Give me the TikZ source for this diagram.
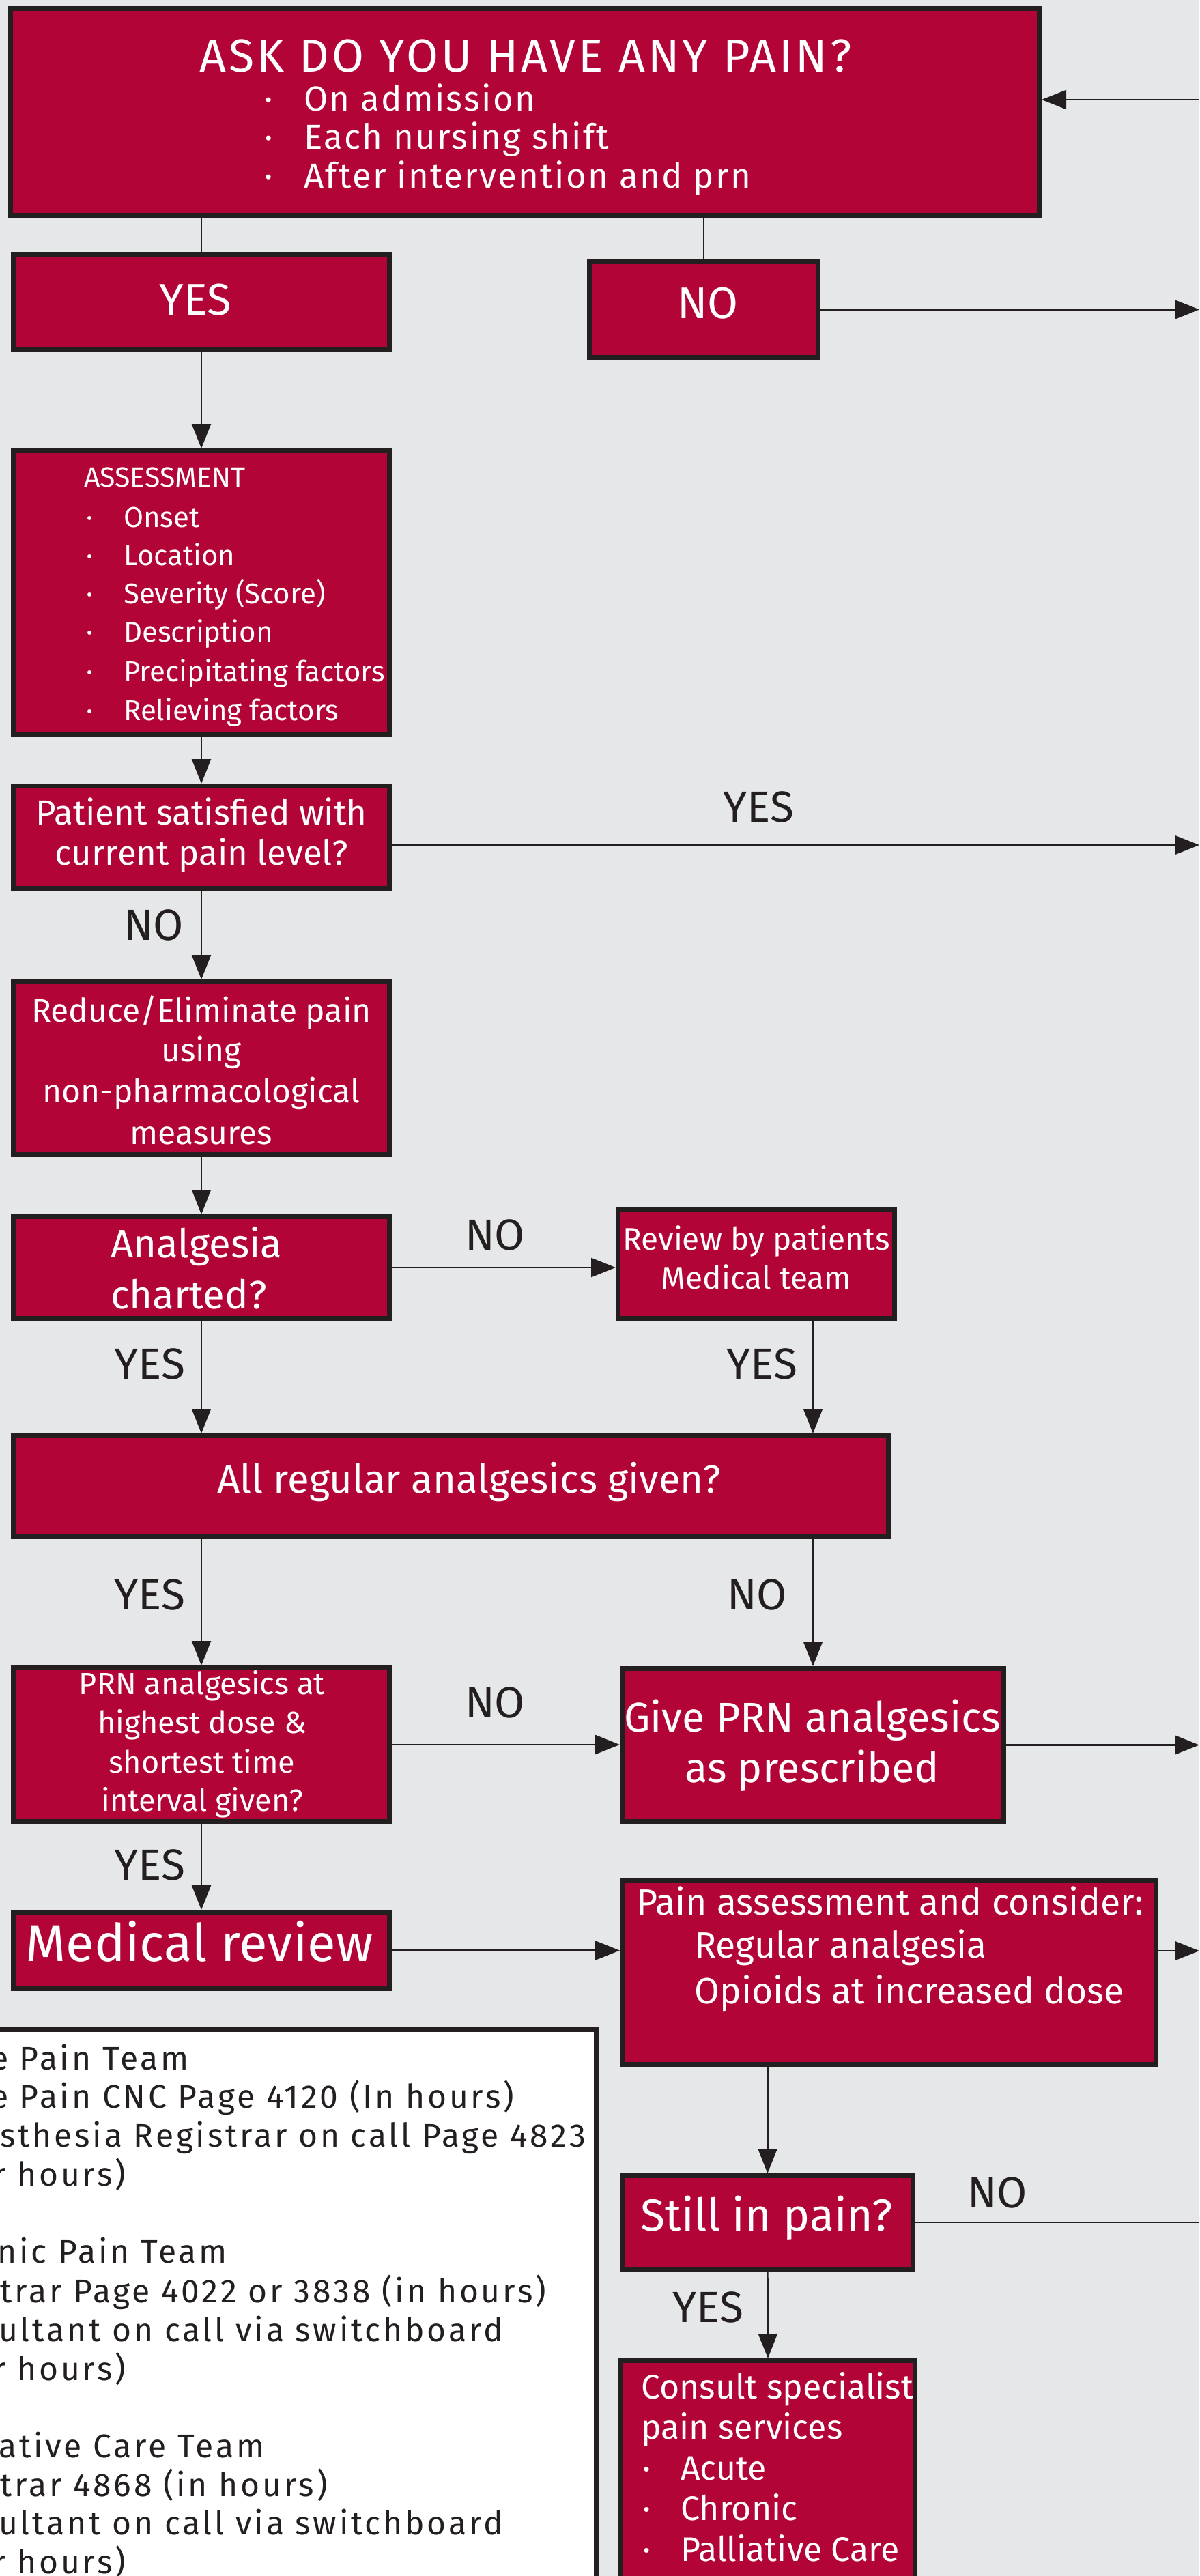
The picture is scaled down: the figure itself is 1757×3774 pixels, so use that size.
\documentclass[tikz,border=0pt]{standalone}
\usepackage{fontspec}
\setmainfont{Fira Sans}
\newfontfamily\spaced[LetterSpace=6]{Fira Sans}
\newfontfamily\spacedb[LetterSpace=4.5]{Fira Sans}
\newfontfamily\spacedl[LetterSpace=8]{Fira Sans}
\usetikzlibrary{arrows.meta}
\definecolor{crim}{HTML}{B30437}
\definecolor{dk}{HTML}{231F20}
\definecolor{bgc}{HTML}{E6E7E8}
\newcommand\fsz[1]{\fontsize{#1}{#1}\selectfont}
\begin{document}
\begin{tikzpicture}[x=1pt,y=-1pt,
  box/.style={draw=dk, fill=crim, line width=7pt, inner sep=0pt},
  legbox/.style={draw=dk, fill=white, line width=7pt, inner sep=0pt},
  wt/.style={text=white, inner sep=0pt, anchor=base},
  wtl/.style={text=white, inner sep=0pt, anchor=base west},
  lbl/.style={text=dk, inner sep=0pt, anchor=base, font=\fsz{64}},
  leg/.style={text=dk, inner sep=0pt, anchor=base west, font=\spacedl\fsz{48}},
  ln/.style={draw=dk, line width=2.4pt},
  arr/.style={ln, -{Triangle[width=28pt,length=36pt]}}]
\useasboundingbox (0,0) rectangle (1757,3774);
\clip (0,0) rectangle (1757,3774);
\fill[bgc] (0,0) rectangle (1757,3774);
\coordinate (E) at (1757,0);
\coordinate (ytop) at (0,146);
\coordinate (ypat) at (0,1238);
\coordinate (ypain) at (0,2858);

% boxes
\node[box, minimum width=1507, minimum height=303] (top) at (769,164) {};
\node[box, minimum width=551, minimum height=140] (yes) at (295,442.5) {};
\node[box, minimum width=335, minimum height=140] (no) at (1031,453.5) {};
\node[box, minimum width=551, minimum height=416] (assess) at (295,868.5) {};
\node[box, minimum width=551, minimum height=150] (patient) at (295,1226.5) {};
\node[box, minimum width=551, minimum height=253] (reduce) at (295,1565) {};
\node[box, minimum width=551, minimum height=149] (analg) at (295,1857) {};
\node[box, minimum width=405, minimum height=160] (review) at (1108,1851.5) {};
\node[box, minimum width=1282, minimum height=148] (allreg) at (660.5,2177.5) {};
\node[box, minimum width=551, minimum height=225] (prn) at (295,2556) {};
\node[box, minimum width=559, minimum height=224] (give) at (1191,2556.5) {};
\node[box, minimum width=551, minimum height=112] (medrev) at (295,2857.5) {};
\node[box, minimum width=782, minimum height=270] (pain) at (1302.5,2889.5) {};
\node[box, minimum width=426, minimum height=137] (still) at (1124.5,3256) {};
\node[box, minimum width=431, minimum height=388] (consult) at (1125,3652.5) {};
\node[legbox, minimum width=900, minimum height=873] (legend) at (423.5,3410) {};

% texts in top box
\node[wt, font=\spaced\fsz{68}] (t0) at (770,105) {ASK DO YOU HAVE ANY PAIN?};
\node[wt, font=\fsz{51}] (t0b1) at (394,162) {·};
\node[wt, font=\fsz{51}] (t0b2) at (394,218) {·};
\node[wt, font=\fsz{51}] (t0b3) at (394,275) {·};
\node[wtl, font=\spacedb\fsz{51}] (t01) at (445,162) {On admission};
\node[wtl, font=\spacedb\fsz{51}] (t02) at (445,218) {Each nursing shift};
\node[wtl, font=\spacedb\fsz{51}] (t03) at (445,275) {After intervention and prn};

\node[wt, font=\fsz{65}] (tyes) at (286,461) {YES};
\node[wt, font=\fsz{65}] (tno) at (1037,466) {NO};

% assessment
\node[wtl, font=\fsz{41}] (ta0) at (123,713) {ASSESSMENT};
\foreach \y/\t [count=\i] in {772/Onset,828/Location,884/Severity (Score),940/Description,998/Precipitating factors,1055/Relieving factors}{
  \node[wt, font=\fsz{42}] (tab\i) at (132,\y) {·};
  \node[wtl, font=\fsz{42}] (ta\i) at (181,\y) {\t};
}

\node[wt, font=\fsz{51}] (tp1) at (295,1208) {Patient satisfied with};
\node[wt, font=\fsz{51}] (tp2) at (295,1267) {current pain level?};

\node[wt, font=\fsz{48}] (tr1) at (295,1497) {Reduce/Eliminate pain};
\node[wt, font=\fsz{48}] (tr2) at (295,1555) {using};
\node[wt, font=\fsz{48}] (tr3) at (295,1615) {non-pharmacological};
\node[wt, font=\fsz{48}] (tr4) at (295,1676) {measures};

\node[wtl, font=\fsz{58}] (tan1) at (162,1842) {Analgesia};
\node[wtl, font=\fsz{58}] (tan2) at (162,1917) {charted?};

\node[wt, font=\fsz{46}] (trv1) at (1108,1831) {Review by patients};
\node[wt, font=\fsz{46}] (trv2) at (1108,1888) {Medical team};

\node[wt, font=\fsz{58}] (tall) at (687,2187) {All regular analgesics given?};

\node[wt, font=\fsz{45}] (tprn1) at (296,2482) {PRN analgesics at};
\node[wt, font=\fsz{45}] (tprn2) at (296,2539) {highest dose \&};
\node[wt, font=\fsz{45}] (tprn3) at (296,2597) {shortest time};
\node[wt, font=\fsz{45}] (tprn4) at (296,2653) {interval given?};

\node[wt, font=\fsz{61}] (tg1) at (1190,2537) {Give PRN analgesics};
\node[wt, font=\fsz{61}] (tg2) at (1190,2611) {as prescribed};

\node[wt, font=\fsz{76}] (tmr) at (292,2873) {Medical review};

\node[wtl, font=\fsz{53.5}] (tpa1) at (932,2805) {Pain assessment and consider:};
\node[wtl, font=\fsz{53.5}] (tpa2) at (1017,2868) {Regular analgesia};
\node[wtl, font=\fsz{53.5}] (tpa3) at (1017,2935) {Opioids at increased dose};

\node[wt, font=\fsz{66}] (tst) at (1123,3268) {Still in pain?};

\node[wtl, font=\fsz{50}] (tc1) at (939,3514) {Consult specialist};
\node[wtl, font=\fsz{50}] (tc2) at (939,3573) {pain services};
\foreach \y/\t [count=\i] in {3633/Acute,3692/Chronic,3752/Palliative Care}{
  \node[wt, font=\fsz{50}] (tcb\i) at (947,\y) {·};
  \node[wtl, font=\fsz{50}] (tci\i) at (997,\y) {\t};
}

% legend texts
\node[leg] (lg1) at (-14,3032) {e Pain Team};
\node[leg] (lg2) at (-14,3088) {e Pain CNC Page 4120 (In hours)};
\node[leg] (lg3) at (0,3145) {sthesia Registrar on call Page 4823};
\node[leg] (lg4) at (-10,3202) {r hours)};
\node[leg] (lg5) at (-4,3315) {nic Pain Team};
\node[leg] (lg6) at (0,3373) {trar Page 4022 or 3838 (in hours)};
\node[leg] (lg7) at (-2,3430) {ultant on call via switchboard};
\node[leg] (lg8) at (-10,3487) {r hours)};
\node[leg] (lg9) at (-2,3600) {ative Care Team};
\node[leg] (lg10) at (0,3657) {trar 4868 (in hours)};
\node[leg] (lg11) at (-2,3713) {ultant on call via switchboard};
\node[leg] (lg12) at (-10,3770) {r hours)};

% external labels
\node[lbl] (l1) at (225,1377) {NO};
\node[lbl] (l2) at (1111,1204) {YES};
\node[lbl] (l3) at (725,1831) {NO};
\node[lbl] (l4) at (219,2020) {YES};
\node[lbl] (l5) at (1116,2020) {YES};
\node[lbl] (l6) at (219,2358) {YES};
\node[lbl] (l7) at (1109,2358) {NO};
\node[lbl] (l8) at (725,2516) {NO};
\node[lbl] (l9) at (219,2754) {YES};
\node[lbl] (l10) at (1461,3234) {NO};
\node[lbl] (l11) at (1037,3402) {YES};

% connectors
\draw[ln] (top.south -| yes.north) -- (yes.north);
\draw[ln] (top.south -| no.north) -- (no.north);
\draw[arr] (E |- ytop) -- (top.east |- ytop);
\draw[arr] (no.east) -- (no.east -| E);
\draw[arr] (yes.south) -- (assess.north);
\draw[arr] (assess.south) -- (patient.north);
\draw[arr] (patient.east |- ypat) -- (E |- ypat);
\draw[arr] (patient.south) -- (reduce.north);
\draw[arr] (reduce.south) -- (analg.north);
\draw[arr] (analg.east) -- (review.west |- analg.east);
\draw[arr] (analg.south) -- (allreg.north -| analg.south);
\draw[arr] (review.south -| give.north) -- (allreg.north -| give.north);
\draw[arr] (allreg.south -| prn.north) -- (prn.north);
\draw[arr] (allreg.south -| give.north) -- (give.north);
\draw[arr] (prn.east) -- (give.west |- prn.east);
\draw[arr] (give.east) -- (give.east -| E);
\draw[arr] (prn.south) -- (medrev.north);
\draw[arr] (medrev.east) -- (pain.west |- medrev.east);
\draw[arr] (pain.east |- ypain) -- (E |- ypain);
\draw[arr] (pain.south -| still.north) -- (still.north);
\draw[ln] (still.east) -- (still.east -| E);
\draw[arr] (still.south) -- (consult.north);
\end{tikzpicture}
\end{document}
